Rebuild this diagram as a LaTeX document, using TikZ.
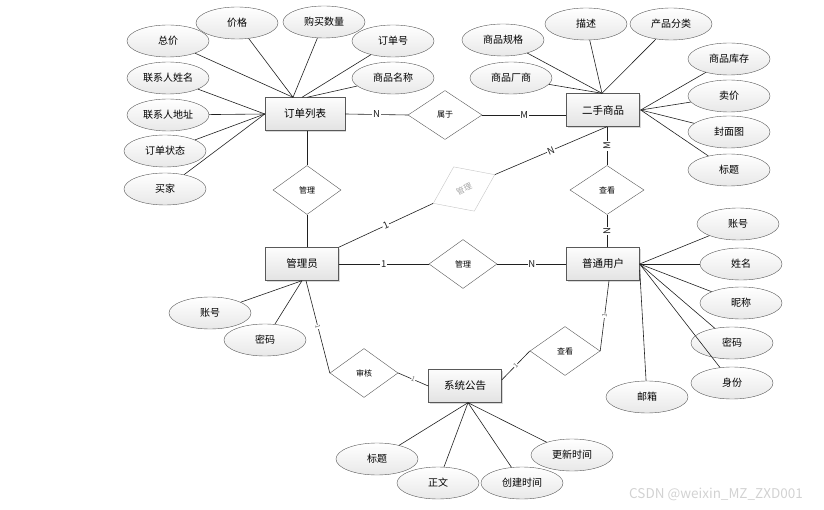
\documentclass[tikz,border=0pt]{standalone}
\usepackage{fontspec}
\newfontfamily\cjk{Noto Sans CJK SC}
\usetikzlibrary{shapes.geometric, shadows}

\begin{document}
\begin{tikzpicture}[x=1pt, y=-1pt,
	every node/.style={font=\cjk\fontsize{10}{12}\selectfont},
	entitaet/.style={draw=gray!70!black, rectangle, minimum width=73pt, minimum height=33pt, top color=gray!2, bottom color=gray!22, drop shadow={opacity=0.3, shadow xshift=1.2pt, shadow yshift=-1.2pt}, font=\cjk\fontsize{10.5}{12}\selectfont},
	attribut/.style={draw=gray!70!black, ellipse, minimum width=82pt, minimum height=32pt, inner sep=0pt, top color=white, bottom color=gray!18},
	beziehung/.style={draw=gray!70!black, diamond, minimum width=68pt, minimum height=49pt, inner sep=0pt, fill=white, font=\cjk\fontsize{8}{9}\selectfont},
	linie/.style={gray!25!black, line width=0.6pt},
	kard/.style={fill=white, inner sep=0.8pt, font=\cjk\fontsize{9.5}{10}\selectfont},
	kardklein/.style={fill=white, inner sep=0.3pt, text=gray!80!black, font=\cjk\fontsize{6.5}{7}\selectfont}]
	
	\useasboundingbox (0,0) rectangle (824,510);
	
	% Zeichnet die Entitaeten
	\node[entitaet, minimum width=80pt] (dd) at (305,114) {订单列表};
	\node[entitaet] (sp) at (603,110) {二手商品};
	\node[entitaet] (gly) at (302,264) {管理员};
	\node[entitaet] (yh) at (603,264) {普通用户};
	\node[entitaet] (gg) at (465,386) {系统公告};
	
	% Zeichnet die Beziehungen (Rauten)
	\node[beziehung, minimum width=74pt] (sy) at (445,115) {属于};
	\node[beziehung] (gl1) at (307,190) {管理};
	\node[beziehung, draw=gray!45, text=gray!70, rotate=25] (gl2) at (464,189) {管理};
	\node[beziehung, minimum width=74pt] (ck1) at (607,190) {查看};
	\node[beziehung] (gl3) at (463,264) {管理};
	\node[beziehung] (sh) at (364,373) {审核};
	\node[beziehung, minimum width=70pt] (ck2) at (565,351) {查看};
	
	% Attribute von Auftragsliste
	\node[attribut] (dd_zongjia) at (168,41) {总价};
	\node[attribut] (dd_jiage) at (237,23) {价格};
	\node[attribut] (dd_shuliang) at (324,22) {购买数量};
	\node[attribut] (dd_ddh) at (393,41) {订单号};
	\node[attribut] (dd_spmc) at (393,78) {商品名称};
	\node[attribut] (dd_lxrxm) at (168,78) {联系人姓名};
	\node[attribut] (dd_lxrdz) at (168,115) {联系人地址};
	\node[attribut] (dd_ddzt) at (165,151) {订单状态};
	\node[attribut] (dd_maijia) at (165,189) {买家};
	
	% Attribute von Gebrauchtware
	\node[attribut] (sp_gg) at (503,40) {商品规格};
	\node[attribut] (sp_ms) at (586,24) {描述};
	\node[attribut] (sp_fl) at (671,24) {产品分类};
	\node[attribut] (sp_cs) at (511,78) {商品厂商};
	\node[attribut] (sp_kc) at (729,59) {商品库存};
	\node[attribut] (sp_mj) at (729,96) {卖价};
	\node[attribut] (sp_fmt) at (729,132) {封面图};
	\node[attribut] (sp_bt) at (729,170) {标题};
	
	% Attribute von Administrator
	\node[attribut] (gly_zh) at (210,313) {账号};
	\node[attribut] (gly_mm) at (265,340) {密码};
	
	% Attribute von Benutzer
	\node[attribut] (yh_zh) at (738,224) {账号};
	\node[attribut] (yh_xm) at (741,264) {姓名};
	\node[attribut] (yh_nc) at (741,303) {昵称};
	\node[attribut] (yh_mm) at (732,343) {密码};
	\node[attribut] (yh_sf) at (732,383) {身份};
	\node[attribut] (yh_yx) at (647,397) {邮箱};
	
	% Attribute von Bekanntmachung
	\node[attribut] (gg_bt) at (377,459) {标题};
	\node[attribut] (gg_zw) at (438,483) {正文};
	\node[attribut] (gg_cj) at (522,483) {创建时间};
	\node[attribut] (gg_gx) at (572,455) {更新时间};
	
	% Verbindet die Attribute mit den Entitaeten
	\foreach \a in {dd_zongjia, dd_jiage, dd_shuliang}
		\draw[linie] (\a) -- ([xshift=-12pt]dd.north);
	\draw[linie] (dd_ddh) -- ([xshift=-3pt]dd.north);
	\draw[linie] (dd_spmc) -- ([xshift=2pt]dd.north);
	\foreach \a in {dd_lxrxm, dd_lxrdz, dd_ddzt, dd_maijia}
		\draw[linie] (\a) -- (dd.west);
	\foreach \a in {sp_gg, sp_ms, sp_fl, sp_cs}
		\draw[linie] (\a) -- ([xshift=-1pt]sp.north);
	\foreach \a in {sp_kc, sp_mj, sp_fmt, sp_bt}
		\draw[linie] (\a) -- ([xshift=1pt]sp.east);
	\foreach \a in {gly_zh, gly_mm}
		\draw[linie] (\a) -- (gly.south);
	\foreach \a in {yh_zh, yh_xm, yh_nc, yh_mm, yh_sf}
		\draw[linie] (\a) -- (yh.east);
	\draw[linie] (yh_yx) -- ([yshift=-6pt]yh.east);
	\foreach \a in {gg_bt, gg_zw, gg_cj, gg_gx}
		\draw[linie] (\a) -- ([xshift=3pt]gg.south);
	
	% Zeichnet die Beziehungslinien mit Kardinalitaeten
	\draw[linie] (dd.east) -- node[kard] {N} (sy.west);
	\draw[linie] (sy.east) -- node[kard] {M} (sy.east -| sp.west);
	\draw[linie] (dd.south -| gl1.north) -- (gl1.north);
	\draw[linie] (gl1.south) -- (gl1.south |- gly.north);
	\draw[linie] (ck1.north |- sp.south) -- node[kard, rotate=90] {M} (ck1.north);
	\draw[linie] (ck1.south) -- node[kard, rotate=90] {N} (ck1.south |- yh.north);
	\draw[linie] ([xshift=4pt]sp.south) -- node[kard, sloped] {N} (gl2.east);
	\draw[linie] (gl2.west) -- node[kard, sloped] {1} (gly.north east);
	\draw[linie] (gly.east) -- node[kard] {1} (gl3.west);
	\draw[linie] (gl3.east) -- node[kard] {N} (yh.west);
	\draw[linie] ([xshift=4pt]gly.south) -- node[kardklein, sloped] {1} (sh.west);
	\draw[linie] (sh.east) -- node[kardklein, sloped] {1} (gg.west);
	\draw[linie] ([xshift=6pt]yh.south) -- node[kardklein, sloped] {1} (ck2.east);
	\draw[linie] (ck2.west) -- node[kardklein, sloped] {1} ([yshift=6pt]gg.east);
	
	% Wasserzeichen
	\node[text=gray!35, font=\cjk\fontsize{13.5}{15}\selectfont] (wz) at (716,494) {CSDN @weixin\_MZ\_ZXD001};
	
\end{tikzpicture}
\end{document}
